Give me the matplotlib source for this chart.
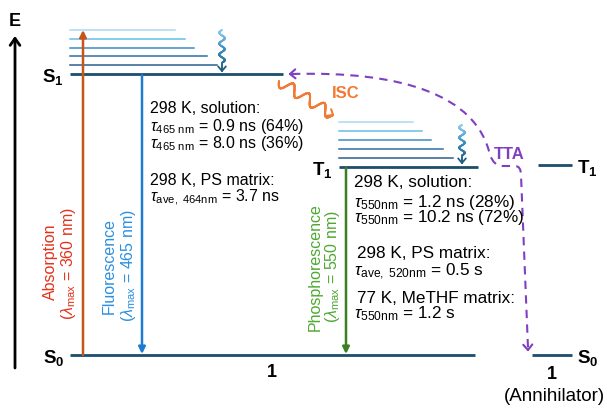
import numpy as np
import matplotlib
matplotlib.use('Agg')
import matplotlib.pyplot as plt
from matplotlib.path import Path
from matplotlib.patches import PathPatch
from matplotlib.collections import LineCollection
from matplotlib.colors import LinearSegmentedColormap

plt.rcParams['font.family'] = ['Liberation Sans', 'DejaVu Sans']
plt.rcParams['mathtext.fontset'] = 'custom'
plt.rcParams['mathtext.rm'] = 'Liberation Sans'
plt.rcParams['mathtext.it'] = 'Liberation Sans:italic'
plt.rcParams['mathtext.bf'] = 'Liberation Sans:bold'

# energy levels of 1 (diagram units, y grows downward)
level_labels = [r'$\mathbf{S_1}$', r'$\mathbf{T_1}$', r'$\mathbf{S_0}$']
level_y = [75, 168, 356]
level_x = [(70, 283), (339, 478), (70, 475)]

# vibrational sublevels above S1 and T1
s1_vib_y = [31, 40, 49, 57, 66]
s1_vib_end = [175, 185, 194, 207, 217]
t1_vib_y = [123, 132, 141, 150, 159]
t1_vib_end = [413, 422, 431, 443, 453]
vib_colors = ['#abd9f1', '#66bfea', '#3b8dc8', '#2d6fa6', '#2a5f8f']

# annihilator levels
ann_labels = [r'$\mathbf{T_1}$', r'$\mathbf{S_0}$']
ann_y = [166, 356]
ann_x = [(538, 572), (532, 572)]

# lifetimes
fl_lines = ["298 K, solution:",
            r"$\tau_{\mathrm{465\ nm}}$ = 0.9 ns (64%)",
            r"$\tau_{\mathrm{465\ nm}}$ = 8.0 ns (36%)",
            "298 K, PS matrix:",
            r"$\tau_{\mathrm{ave,\ 464nm}}$ = 3.7 ns"]
fl_base = [113, 131, 148, 185, 202]
ph_lines = ["298 K, solution:",
            r"$\tau_{\mathrm{550nm}}$ = 1.2 ns (28%)",
            r"$\tau_{\mathrm{550nm}}$ = 10.2 ns (72%)",
            "298 K, PS matrix:",
            r"$\tau_{\mathrm{ave,\ 520nm}}$ = 0.5 s",
            "77 K, MeTHF matrix:",
            r"$\tau_{\mathrm{550nm}}$ = 1.2 s"]
ph_base = [187, 207, 222, 258, 276, 303, 318]
ph_indent = [0, 0, 0, 3, 0, 3, 0]

level_color = '#1d4d6c'


def chevron(ax, x, y, ux, uy, color, size=6, ang=40, lw=1.5):
    for s in (1, -1):
        a = np.radians(ang) * s
        bx, by = -ux, -uy
        rx = bx * np.cos(a) - by * np.sin(a)
        ry = bx * np.sin(a) + by * np.cos(a)
        ax.plot([x, x + rx * size], [y, y + ry * size], color=color, lw=lw,
                solid_capstyle='round')


def wavy_arrow(ax, x0, y0, x1, y1, periods, amp, colors, lw=1.3, head=6, tail=0.0):
    t = np.linspace(0, 1, 300)
    dx, dy = x1 - x0, y1 - y0
    length = np.hypot(dx, dy)
    ux, uy = dx / length, dy / length
    nx, ny = -uy, ux
    span = 1 - tail
    w = np.where(t < span, amp * np.sin(2 * np.pi * periods * np.minimum(t, span) / span), 0)
    xs = x0 + dx * t + nx * w
    ys = y0 + dy * t + ny * w
    pts = np.column_stack([xs, ys]).reshape(-1, 1, 2)
    segs = np.concatenate([pts[:-1], pts[1:]], axis=1)
    cmap = LinearSegmentedColormap.from_list('w', colors)
    ax.add_collection(LineCollection(segs, colors=cmap(t[:-1]), linewidths=lw,
                                     capstyle='round'))
    chevron(ax, x1, y1, ux, uy, colors[-1], size=head, lw=lw)


fig = plt.figure(figsize=(6.04, 4.06), dpi=100)
ax = fig.add_axes([0, 0, 1, 1])
ax.set_xlim(0, 604)
ax.set_ylim(406, 0)
ax.axis('off')

# energy axis
ax.annotate('', xy=(15, 37), xytext=(15, 369),
            arrowprops=dict(arrowstyle='->,head_length=0.5,head_width=0.35',
                            lw=2, color='black', shrinkA=0, shrinkB=0))
ax.text(15, 22, 'E', fontsize=13, fontweight='bold', ha='center', va='center')

# vibrational sublevels
for y, x1, c in zip(s1_vib_y, s1_vib_end, vib_colors):
    ax.plot([70, x1], [y, y], color=c, lw=1.1)
for y, x1, c in zip(t1_vib_y, t1_vib_end, vib_colors):
    ax.plot([339, x1], [y, y], color=c, lw=1.1)

# main levels
for lab, y, (x0, x1) in zip(level_labels, level_y, level_x):
    ax.plot([x0, x1], [y, y], color=level_color, lw=2, solid_capstyle='butt')
    ax.text(x0 - 6, y + 2, lab, fontsize=13.5, ha='right', va='center')
for lab, y, (x0, x1) in zip(ann_labels, ann_y, ann_x):
    ax.plot([x0, x1], [y, y], color=level_color, lw=2, solid_capstyle='butt')
    ax.text(x1 + 5, y + 2, lab, fontsize=13.5, ha='left', va='center')

ax.text(272, 373, '1', fontsize=13, fontweight='bold', ha='center', va='center')
ax.text(552, 375, '1', fontsize=13, fontweight='bold', ha='center', va='center')
ax.text(554, 397, '(Annihilator)', fontsize=13.5, ha='center', va='center')

# radiative transitions
arrow_kw = dict(lw=1.8, shrinkA=0, shrinkB=0, mutation_scale=10)
ax.annotate('', xy=(83, 31), xytext=(83, 356),
            arrowprops=dict(arrowstyle='-|>', color='#c4561a', **arrow_kw))
ax.annotate('', xy=(142, 355), xytext=(142, 76),
            arrowprops=dict(arrowstyle='-|>', color='#1f7bcf', **arrow_kw))
ax.annotate('', xy=(346, 355), xytext=(346, 169),
            arrowprops=dict(arrowstyle='-|>', color='#3b7f22', **arrow_kw))

ax.text(50, 262, 'Absorption', rotation=90, fontsize=11.5, color='#e2321d',
        ha='center', va='center')
ax.text(69, 264, r'($\mathit{\lambda}_{\mathrm{max}}$ = 360 nm)', rotation=90,
        fontsize=11.5, color='#e2321d', ha='center', va='center')
ax.text(109, 266, 'Fluorescence', rotation=90, fontsize=11.5, color='#2b8fe0',
        ha='center', va='center')
ax.text(128, 266, r'($\mathit{\lambda}_{\mathrm{max}}$ = 465 nm)', rotation=90,
        fontsize=11.5, color='#2b8fe0', ha='center', va='center')
ax.text(315, 267, 'Phosphorescence', rotation=90, fontsize=11.5, color='#4ea832',
        ha='center', va='center')
ax.text(333, 267, r'($\mathit{\lambda}_{\mathrm{max}}$ = 550 nm)', rotation=90,
        fontsize=11.5, color='#4ea832', ha='center', va='center')

# lifetimes
for s, yb in zip(fl_lines, fl_base):
    ax.text(150, yb, s, fontsize=11.5, ha='left', va='baseline')
for s, yb, dx in zip(ph_lines, ph_base, ph_indent):
    ax.text(354 + dx, yb, s, fontsize=12.3, ha='left', va='baseline')

# vibrational relaxation
relax_cols = ['#8fd0f0', '#3a8cc4', '#1f5f80']
wavy_arrow(ax, 222, 31, 222, 72, 3.0, 2.8, relax_cols, lw=1.3, head=6, tail=0.2)
wavy_arrow(ax, 462, 126, 462, 164, 3.0, 2.8, relax_cols, lw=1.3, head=6, tail=0.2)

# intersystem crossing
wavy_arrow(ax, 279, 82, 333, 116, 3.5, 5.5, ['#f07a36', '#f07a36'], lw=1.5, head=6)
ax.text(346, 93, 'ISC', fontsize=12, fontweight='bold', color='#f07a36',
        ha='center', va='center')

# triplet-triplet annihilation
tta_color = '#7f3fc0'
verts = [(292, 75), (400, 72), (476, 95), (490, 156),
         (494, 167), (502, 167), (515, 167),
         (521, 167), (521, 176), (528, 349)]
codes = [Path.MOVETO, Path.CURVE4, Path.CURVE4, Path.CURVE4,
         Path.CURVE3, Path.CURVE3, Path.LINETO,
         Path.CURVE3, Path.CURVE3, Path.LINETO]
ax.add_patch(PathPatch(Path(verts, codes), fill=False, edgecolor=tta_color,
                       lw=1.5, linestyle=(0, (4, 3))))
chevron(ax, 290, 75, -1, 0.03, tta_color, size=7, lw=1.5)
d = np.array([7, 174]) / np.hypot(7, 174)
chevron(ax, 528, 351, d[0], d[1], tta_color, size=7, lw=1.5)
ax.text(509, 155, 'TTA', fontsize=12, fontweight='bold', color=tta_color,
        ha='center', va='center')

fig.savefig('out.png', dpi=100)
